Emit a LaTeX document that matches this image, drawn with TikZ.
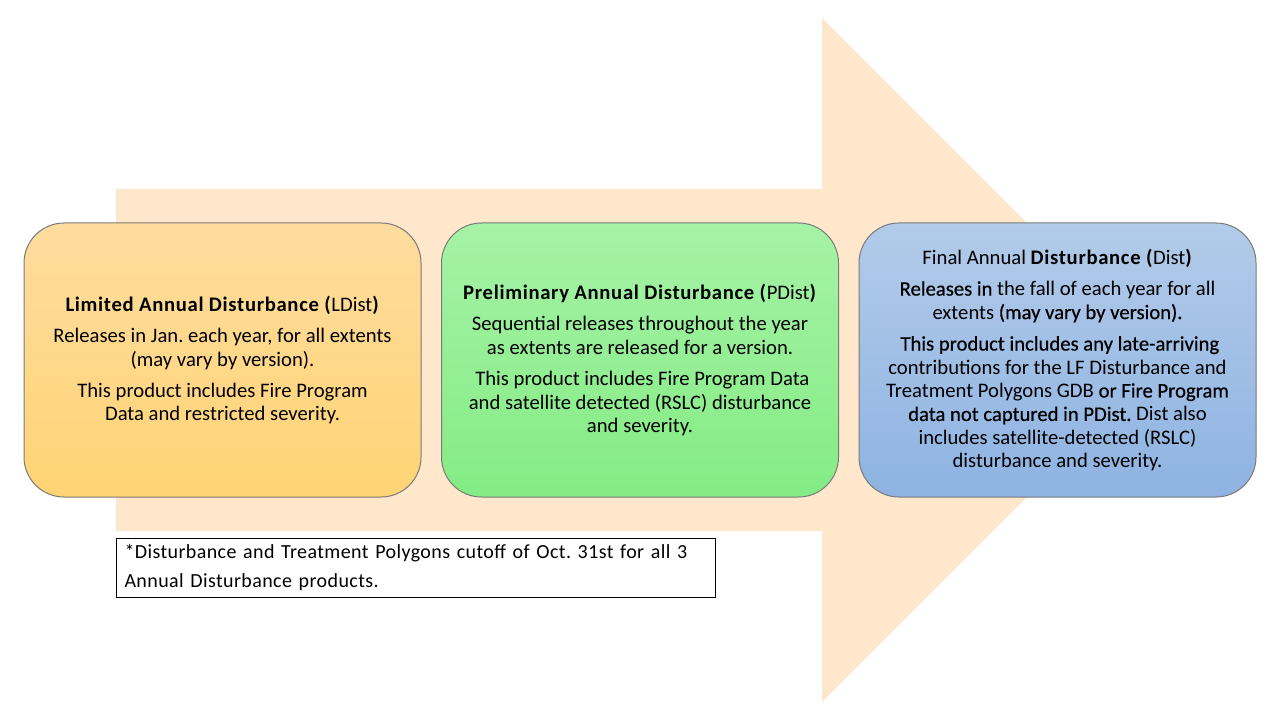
\documentclass[tikz,border=0pt]{standalone}
\usepackage{fontspec}
\setmainfont{Carlito}[BoldFeatures={LetterSpace=3.3}]
\newfontfamily\semib[FakeBold=0.5]{Carlito}
\newfontfamily\notefont[LetterSpace=2]{Carlito}
\newcommand\notesetup{\notefont\fontsize{15}{21.75}\selectfont\spaceskip=0.2em\relax}
\usetikzlibrary{positioning}
\definecolor{arrowfill}{HTML}{FFE7CB}
\definecolor{ltop}{HTML}{FEDC9E}
\definecolor{lbot}{HTML}{FFD475}
\definecolor{ptop}{HTML}{A6F2A6}
\definecolor{pbot}{HTML}{84EC84}
\definecolor{ftop}{HTML}{B2CBE9}
\definecolor{fbot}{HTML}{8EB3E2}
\definecolor{boxline}{HTML}{7A7A7A}
\tikzset{
  stagebox/.style={draw=boxline, line width=0.75pt, rounded corners=30pt,
    minimum width=297.75pt, minimum height=205.5pt, align=center,
    font=\fontsize{15.5}{17.6}\selectfont, inner sep=0pt},
  notebox/.style={draw=black, line width=0.75pt, anchor=north west,
    minimum width=449.25pt, minimum height=44.25pt, align=left,
    text width=437.25pt, inner xsep=6pt, inner ysep=0pt,
    font=\notesetup}
}
\begin{document}
\frenchspacing
\begin{tikzpicture}[x=0.75pt,y=-0.75pt]
\useasboundingbox (0,0) rectangle (1280,720);
% big background arrow
\fill[arrowfill] (116,189) -- (822,189) -- (822,18) -- (1164,360) -- (822,702) -- (822,531) -- (116,531) -- cycle;
% stage boxes
\node[stagebox, top color=ltop, bottom color=lbot] (ldist) at (222.5,360)
  {\textbf{Limited Annual Disturbance (}LDist\textbf{)}\\[6pt]
   Releases in Jan. each year, for all extents\\
   (may vary by version).\\[6pt]
   This product includes Fire Program\\
   Data and restricted severity.};
\node[stagebox, top color=ptop, bottom color=pbot] (pdist) at (640,360)
  {\textbf{Preliminary Annual Disturbance (}PDist\textbf{)}\\[6pt]
   Sequential releases throughout the year\\
   as extents are released for a version.\\[6pt]
   \ This product includes Fire Program Data\\
   and satellite detected (RSLC) disturbance\\
   and severity.};
\node[stagebox, top color=ftop, bottom color=fbot] (dist) at (1057.5,360)
  {Final Annual \textbf{Disturbance (}Dist\textbf{)}\\[6pt]
   {\semib Releases in} the fall of each year for all\\
   extents {\semib (may vary by version).}\\[6pt]
   \ {\semib This product includes any late-arriving}\\
   contributions for the LF Disturbance and\\
   Treatment Polygons GDB {\semib or Fire Program}\\
   {\semib data not captured in PDist.} Dist also\\
   includes satellite-detected (RSLC)\\
   disturbance and severity.};
% footnote
\node[notebox] (note) at (116,538)
  {*Disturbance and Treatment Polygons cutoff of Oct. 31st for all 3\\
   Annual Disturbance products.};
\end{tikzpicture}
\end{document}
